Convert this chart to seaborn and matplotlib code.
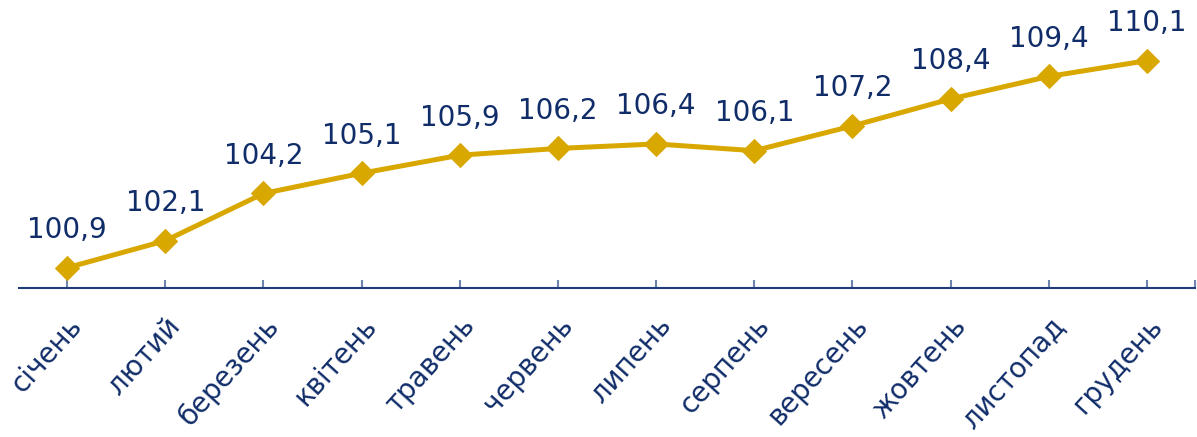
import pandas as pd
import matplotlib.pyplot as plt
import seaborn as sns

months = ['січень', 'лютий', 'березень', 'квітень', 'травень', 'червень',
          'липень', 'серпень', 'вересень', 'жовтень', 'листопад', 'грудень']
values = [100.9, 102.1, 104.2, 105.1, 105.9, 106.2, 106.4, 106.1, 107.2, 108.4, 109.4, 110.1]
labels = ['100,9', '102,1', '104,2', '105,1', '105,9', '106,2',
          '106,4', '106,1', '107,2', '108,4', '109,4', '110,1']

sns.set_style('white')
plt.rcParams['font.family'] = ['DejaVu Sans']

line_color = '#D9A800'
text_color = '#102D69'
axis_color = '#1F3B78'

df = pd.DataFrame({'x': range(len(months)), 'value': values})

fig = plt.figure(figsize=(11.97, 4.37), dpi=100)
ax = fig.add_axes([0.0159, 0.341, 0.9825, 0.618])

sns.lineplot(data=df, x='x', y='value', ax=ax, color=line_color, linewidth=3.6,
             marker='D', markersize=12, markeredgecolor=line_color)

for i, (v, lab) in enumerate(zip(values, labels)):
    ax.annotate(lab, (i, v), xytext=(0, 27), textcoords='offset points',
                ha='center', va='center', fontsize=20, color=text_color)

ax.set_xlim(-0.49, 11.49)
ax.set_ylim(100, 112)
ax.set_xticks(range(len(months)))
ax.set_xticks([11.49], minor=True)
ax.set_xticklabels(months, rotation=48, ha='right', rotation_mode='anchor',
                   fontsize=20, color=text_color)
ax.tick_params(axis='x', which='both', direction='in', length=6, width=1.5,
               color='#6F84AE', pad=17, bottom=True)
ax.set_yticks([])
ax.set_xlabel('')
ax.set_ylabel('')
for side in ['left', 'right', 'top']:
    ax.spines[side].set_visible(False)
ax.spines['bottom'].set_color(axis_color)
ax.spines['bottom'].set_linewidth(1.5)

fig.savefig('out.png', dpi=100)
